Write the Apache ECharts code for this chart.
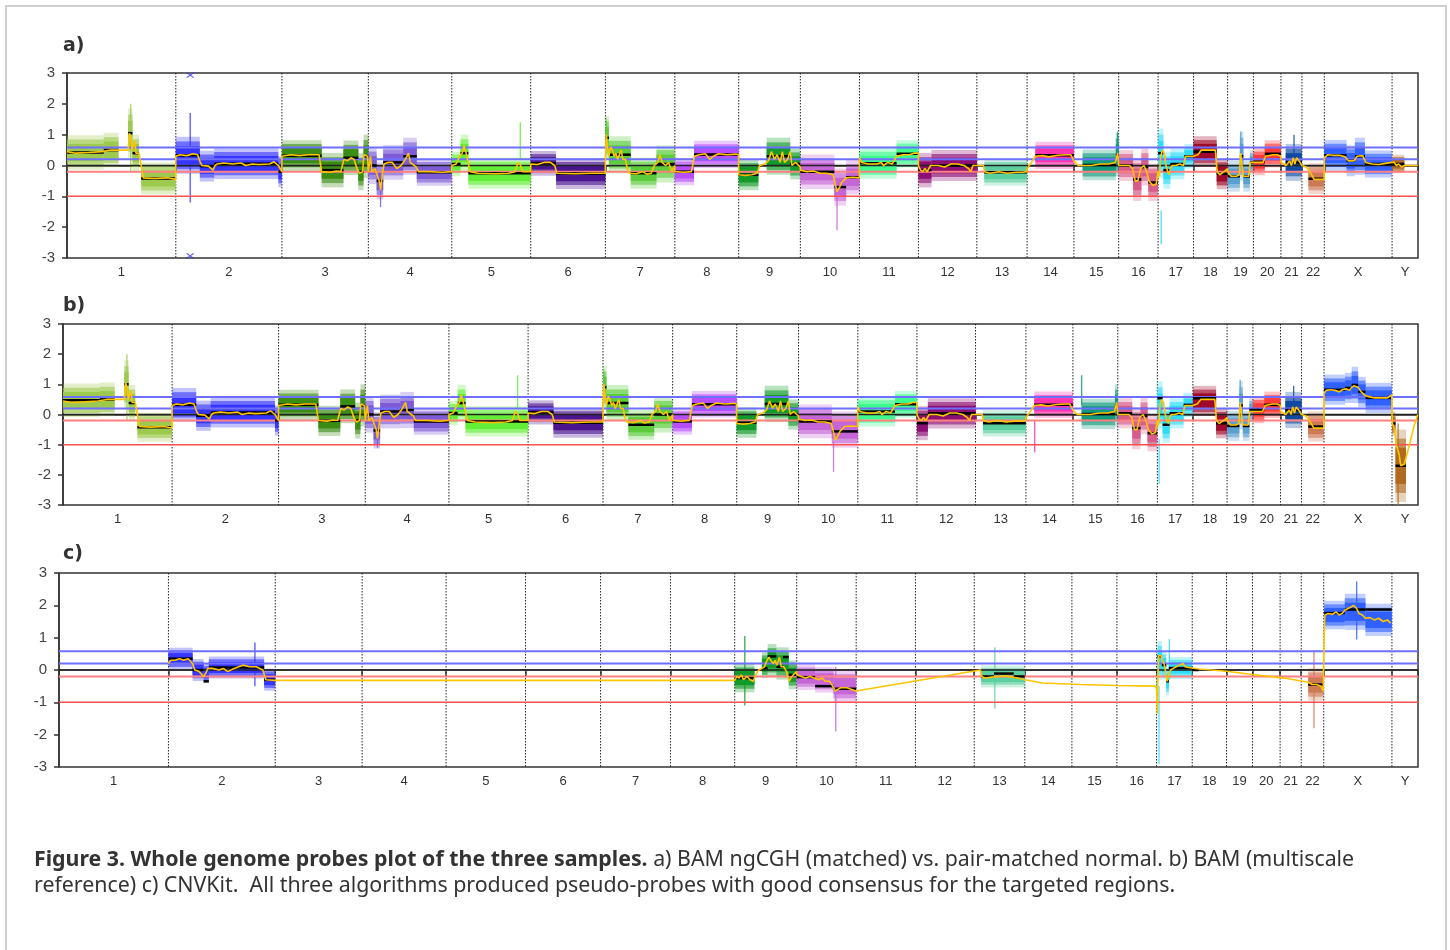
<!DOCTYPE html>
<html><head><meta charset="utf-8">
<script src="https://cdn.jsdelivr.net/npm/echarts@6/dist/echarts.min.js"></script>
<style>
html,body{margin:0;padding:0;background:#fff;overflow:hidden;width:1450px;height:950px;}
#frame{position:absolute;left:5px;top:5px;width:1442px;height:990px;border:2px solid #cfcfcf;box-sizing:border-box;z-index:10;pointer-events:none;}
#chart{position:absolute;left:0;top:0;width:1450px;height:950px;}
#caption{position:absolute;left:34px;top:845px;width:1410px;font-family:'Noto Sans',sans-serif;font-size:21.35px;line-height:26px;color:#333;z-index:5;}
</style></head><body>
<div id="chart"></div>
<div id="frame"></div>
<div id="caption"><b>Figure 3. Whole genome probes plot of the three samples.</b> a) BAM ngCGH (matched) vs. pair-matched normal. b) BAM (multiscale<br>reference) c) CNVKit.&nbsp; All three algorithms produced pseudo-probes with good consensus for the targeted regions.</div>
<script>
// ---------- data ----------
const chrNames = ['1','2','3','4','5','6','7','8','9','10','11','12','13','14','15','16','17','18','19','20','21','22','X','Y'];
const chrLengths = [249.3,243.2,198.0,191.2,180.9,171.1,159.1,146.4,141.2,135.5,135.0,133.9,115.2,107.3,102.5,90.4,81.2,78.1,59.1,63.0,48.1,51.3,155.3,59.4];
const yTicks = [-3,-2,-1,0,1,2,3];
const refLevels = [0.58, 0.2, 0, -0.2, -1];
const panelLabels = ['a)','b)','c)'];

// segments: [chr, startMb, endMb, segment mean, cloud half-width, (cloud centre)]
const segA = [
 ['1',0,84,0.42,0.28],['1',84,118,0.5,0.28],['1',140,150,1.05,0.4],['1',150,165,0.4,0.3],['1',170,249,-0.42,0.26],
 ['2',0,55,0.33,0.3],['2',55,88,-0.02,0.25],['2',88,235,0.06,0.25],['2',235,243,-0.2,0.25],
 ['3',0,91,0.32,0.25],['3',91,141,-0.15,0.28],['3',141,175,0.25,0.28],['3',175,187,-0.2,0.3],['3',187,198,0.3,0.35],
 ['4',0,19,0.0,0.3],['4',19,34,-0.5,0.3],['4',34,80,0.1,0.28],['4',80,111,0.3,0.3],['4',111,191,-0.22,0.22],
 ['5',0,20,0.05,0.2],['5',20,38,0.4,0.3],['5',38,181,-0.25,0.25],
 ['6',0,58,0.07,0.2],['6',58,171,-0.26,0.25],
 ['7',0,8,0.9,0.35],['7',8,58,0.35,0.3],['7',58,117,-0.25,0.25],['7',117,159,0.05,0.3],
 ['8',0,44,-0.2,0.22],['8',44,146,0.36,0.22],
 ['9',0,45,-0.3,0.25],['9',64,118,0.3,0.3],['9',118,141,0.05,0.25],
 ['10',0,78,-0.2,0.28],['10',78,105,-0.7,0.3],['10',105,135.5,-0.38,0.28],
 ['11',0,85,0.07,0.25],['11',85,135,0.38,0.22],
 ['12',0,30,-0.15,0.28],['12',30,134,0.0,0.25],
 ['13',17,115,-0.22,0.22],
 ['14',19,107,0.33,0.22],
 ['15',20,96,0.02,0.25],['15',96,102.5,0.35,0.35],
 ['16',0,33,0.0,0.25],['16',33,52,-0.45,0.35],['16',52,68,-0.05,0.3],['16',68,90,-0.55,0.3],
 ['17',0,12,0.4,0.4],['17',12,28,-0.15,0.3],['17',28,60,0.05,0.25],['17',60,81,0.3,0.2],
 ['18',0,53,0.45,0.25],['18',53,78,-0.27,0.25],
 ['19',0,28,-0.35,0.25],['19',28,36,0.3,0.4],['19',36,51,-0.35,0.25],['19',51,59,0.1,0.2],
 ['20',0,26,0.12,0.22],['20',26,63,0.38,0.22],
 ['21',11,48,0.1,0.3],
 ['22',15,51,-0.43,0.25],
 ['X',0,51,0.33,0.25],['X',51,70,0.15,0.25],['X',70,93,0.3,0.3],['X',93,155,0.05,0.22],
 ['Y',0,28,0.05,0.15]
];
const segB = [
 ['1',0,84,0.47,0.28],['1',84,118,0.5,0.28],['1',140,150,1.0,0.4],['1',150,165,0.38,0.3],['1',170,249,-0.42,0.24],
 ['2',0,55,0.32,0.28],['2',55,88,-0.04,0.25],['2',88,235,0.07,0.25],['2',235,243,-0.2,0.25],
 ['3',0,91,0.32,0.25],['3',91,141,-0.21,0.25],['3',141,175,0.27,0.28],['3',175,187,-0.2,0.3],['3',187,198,0.3,0.35],
 ['4',0,19,0.0,0.3],['4',19,34,-0.53,0.3],['4',34,80,0.1,0.28],['4',80,111,0.15,0.3],['4',111,191,-0.23,0.22],
 ['5',0,20,0.05,0.2],['5',20,38,0.38,0.3],['5',38,181,-0.23,0.25],
 ['6',0,58,0.07,0.2],['6',58,171,-0.27,0.25],
 ['7',0,8,0.9,0.35],['7',8,58,0.38,0.3],['7',58,117,-0.34,0.25],['7',117,159,0.0,0.3],
 ['8',0,44,-0.23,0.22],['8',44,146,0.34,0.22],
 ['9',0,45,-0.27,0.25],['9',64,118,0.35,0.3],['9',118,141,0.0,0.25],
 ['10',0,76,-0.23,0.28],['10',76,135.5,-0.56,0.3,-0.5],
 ['11',0,85,0.1,0.25],['11',85,135,0.34,0.22],
 ['12',0,25,-0.29,0.28],['12',25,134,0.04,0.25],
 ['13',17,115,-0.29,0.22],
 ['14',19,107,0.32,0.22],
 ['15',20,96,0.02,0.25],['15',96,102.5,0.3,0.35],
 ['16',0,33,0.04,0.25],['16',33,52,-0.45,0.35],['16',52,68,-0.05,0.3],['16',68,90,-0.62,0.3],
 ['17',0,12,0.54,0.4,0.3],['17',12,28,-0.34,0.3],['17',28,60,0.04,0.25],['17',60,81,0.32,0.2],
 ['18',0,53,0.54,0.25,0.45],['18',53,78,-0.29,0.25],
 ['19',0,28,-0.38,0.25],['19',28,36,0.3,0.4],['19',36,51,-0.38,0.25],['19',51,59,0.15,0.2],
 ['20',0,26,0.15,0.22],['20',26,63,0.32,0.22],
 ['21',11,48,0.15,0.3],
 ['22',15,51,-0.4,0.25],
 ['X',0,48,0.82,0.25],['X',48,63,0.88,0.25],['X',63,78,0.98,0.3],['X',78,95,0.75,0.25],['X',95,155,0.55,0.25],
 ['Y',0,8,-0.3,0.2],['Y',8,32,-1.7,0.6]
];
const segC = [
 ['2',0,55,0.35,0.17],['2',55,80,0.0,0.17],['2',80,92,-0.35,0.15,-0.1],['2',92,218,0.08,0.17],['2',218,243,-0.3,0.17],
 ['9',0,45,-0.25,0.22],['9',62,75,0.06,0.2,0.15],['9',75,95,0.42,0.25,0.3],['9',95,110,0.1,0.25,0.2],['9',110,123,0.4,0.25,0.2],['9',123,141,-0.15,0.22],
 ['10',0,42,-0.22,0.2],['10',42,84,-0.5,0.2,-0.3],['10',84,135.5,-0.58,0.25,-0.5],
 ['13',16,45,-0.2,0.17],['13',45,90,-0.11,0.17,-0.2],['13',90,115,-0.2,0.17],
 ['17',0,2,-0.6,0.2],['17',2,12,0.42,0.3,0.3],['17',12,22,0.15,0.22],['17',22,28,-0.35,0.22],['17',28,81,0.06,0.17],
 ['18',0,15,0.0,0],
 ['22',16,51,-0.45,0.25],
 ['X',1,48,1.76,0.22,1.7],['X',48,95,1.87,0.28,1.8],['X',95,155,1.87,0.25,1.55]
];

// isolated outlier streaks: [chr, Mb, low, high]
const outA = [['1',146,-0.2,2.0],['2',33,-1.2,1.7],['4',28,-1.35,-0.6],['5',157,0.2,1.4],['7',2,0.6,1.5],['10',84,-2.1,-1.0],['15',100,0.4,1.1],['17',7,-2.55,-1.45],['19',30,0.4,1.1],['21',30,0.4,1.0]];
const outB = [['1',146,-0.2,2.0],['4',28,-1.1,-0.6],['5',157,0.2,1.3],['7',2,0.6,1.45],['10',80,-1.9,-0.9],['14',20,-1.25,-0.2],['15',20,0.3,1.3],['17',4,-2.3,-0.8],['19',30,0.4,1.15],['21',30,0.4,0.95],['Y',14,-3,-0.3]];
const outC = [['2',197,-0.5,0.85],['9',23,-1.1,1.05],['10',89,-1.9,0.1],['13',47,-1.2,0.7],['17',5.5,-2.9,-0.5],['17',29,-0.3,0.96],['22',29,-1.8,0.6],['X',75,0.94,2.74]];
// clipped probes drawn as crosses at the axis limits: [chr, Mb, value]
const clipA = [['2',33,2.93],['2',33,-2.93]];

// smoothed trace: [chr, [[Mb, value], ...]]
const yellowAuto = [
 ['1',[[0,0.45],[20,0.4],[50,0.42],[80,0.45],[100,0.5],[118,0.5],[140,0.5],[143,1.05],[147,0.85],[149,0.5],[152,0.45],[155,0.8],[158,0.4],[165,0.4],[170,0.0],[175,-0.4],[200,-0.42],[230,-0.4],[249,-0.45]]],
 ['2',[[0,0.3],[10,0.35],[25,0.32],[40,0.38],[50,0.35],[56,0.1],[60,0.0],[75,-0.02],[85,-0.15],[90,0.0],[95,0.05],[110,0.08],[130,0.05],[150,0.08],[160,0.0],[175,0.05],[190,0.03],[215,0.05],[225,0.12],[235,0.0],[243,-0.2]]],
 ['3',[[0,0.3],[20,0.35],[40,0.32],[60,0.35],[85,0.35],[91,-0.2],[110,-0.22],[125,-0.18],[135,-0.2],[142,0.2],[150,0.15],[158,0.25],[165,0.2],[172,-0.1],[178,-0.25],[185,-0.2],[188,0.35],[196,0.3],[198,-0.2]]],
 ['4',[[0,-0.15],[5,0.3],[8,-0.2],[15,-0.1],[20,-0.3],[25,-0.5],[28,-0.8],[32,-0.3],[36,0.05],[45,0.1],[55,0.1],[65,-0.1],[75,0.0],[85,0.2],[92,0.4],[96,0.1],[105,0.0],[110,-0.05],[115,-0.2],[140,-0.2],[170,-0.22],[191,-0.2]]],
 ['5',[[0,0.0],[10,0.05],[18,0.3],[24,0.4],[28,0.65],[32,0.45],[36,0.2],[42,-0.2],[60,-0.25],[100,-0.27],[130,-0.25],[145,-0.2],[152,0.1],[158,0.0],[162,-0.2],[181,-0.2]]],
 ['6',[[0,0.05],[15,0.03],[30,0.1],[45,0.1],[55,0.0],[60,-0.25],[100,-0.27],[140,-0.25],[171,-0.25]]],
 ['7',[[0,0.1],[2,1.0],[5,0.6],[8,0.3],[12,0.6],[16,0.5],[20,0.3],[24,0.4],[28,0.2],[32,0.35],[36,0.5],[40,0.2],[46,0.2],[50,-0.1],[55,-0.25],[70,-0.27],[85,-0.2],[95,-0.28],[105,-0.25],[112,0.0],[120,0.1],[125,0.35],[130,0.1],[138,0.0],[145,0.1],[152,-0.2],[159,0.0]]],
 ['8',[[0,-0.2],[20,-0.22],[38,-0.2],[45,0.3],[55,0.35],[70,0.38],[80,0.2],[88,0.3],[100,0.38],[120,0.35],[140,0.37],[146,0.35]]],
 ['9',[[0,-0.3],[15,-0.32],[30,-0.3],[42,-0.25],[48,0.0],[60,0.05],[68,0.15],[75,0.45],[82,0.2],[88,0.35],[95,0.1],[100,0.45],[105,0.1],[112,0.2],[118,0.45],[122,0.0],[130,0.1],[141,-0.05]]],
 ['10',[[0,-0.15],[15,-0.2],[30,-0.18],[45,-0.25],[60,-0.25],[75,-0.3],[80,-0.6],[84,-0.85],[90,-0.7],[95,-0.55],[105,-0.4],[120,-0.38],[135,-0.4]]],
 ['11',[[0,0.25],[5,0.1],[20,0.05],[40,0.05],[50,0.1],[55,0.0],[65,0.1],[75,0.05],[85,0.3],[100,0.35],[115,0.35],[125,0.4],[135,0.4]]],
 ['12',[[0,0.0],[5,-0.15],[10,-0.2],[15,-0.1],[20,-0.2],[28,0.0],[45,0.0],[60,-0.05],[75,0.05],[90,0.05],[105,0.0],[115,-0.1],[120,-0.2],[125,0.0],[134,0.0]]],
 ['13',[[0,0.0],[15,0.0],[18,-0.2],[30,-0.25],[50,-0.2],[70,-0.25],[90,-0.22],[105,-0.22],[115,-0.2]]],
 ['14',[[0,-0.1],[10,0.1],[19,0.3],[35,0.32],[50,0.28],[70,0.33],[90,0.35],[100,0.35],[107,0.15]]],
 ['15',[[0,0.15],[10,0.0],[20,0.0],[40,0.0],[60,0.05],[80,0.05],[95,0.1],[100,0.4],[102,0.1]]],
 ['16',[[0,0.0],[15,0.0],[25,0.0],[32,-0.1],[38,-0.5],[44,-0.5],[50,-0.1],[58,0.0],[64,-0.2],[70,-0.5],[78,-0.65],[86,-0.6],[90,-0.2]]],
 ['17',[[0,-0.4],[3,-0.3],[6,0.3],[10,0.5],[14,0.4],[18,0.0],[22,-0.2],[25,-0.3],[28,-0.1],[32,0.0],[40,0.0],[50,0.05],[58,0.0],[63,0.3],[72,0.3],[81,0.3]]],
 ['18',[[0,0.35],[10,0.35],[18,0.5],[35,0.5],[50,0.5],[54,-0.2],[60,-0.3],[70,-0.2],[78,-0.1]]],
 ['19',[[0,-0.2],[8,-0.35],[20,-0.35],[27,-0.3],[30,0.4],[33,0.0],[36,-0.35],[48,-0.35],[52,0.1],[59,0.1]]],
 ['20',[[0,0.05],[10,0.1],[22,0.1],[28,0.3],[45,0.35],[55,0.35],[63,0.3]]],
 ['21',[[0,0.1],[12,0.0],[16,-0.05],[20,0.15],[24,0.0],[28,0.25],[32,0.05],[36,0.25],[40,0.3],[44,0.1],[48,0.0]]],
 ['22',[[0,0.0],[10,-0.05],[16,-0.15],[22,-0.3],[28,-0.45],[40,-0.45],[51,-0.45]]]
];
const yellowSexA = [
 ['X',[[0,0.25],[8,0.35],[20,0.33],[35,0.33],[48,0.28],[55,0.15],[68,0.15],[75,0.3],[88,0.32],[95,0.1],[110,0.05],[125,0.03],[140,0.07],[155,0.1]]],
 ['Y',[[0,0.15],[5,0.1],[10,0.0],[15,0.05],[22,-0.05],[28,0.0],[59,0.0]]]
];
const yellowSexB = [
 ['X',[[0,0.7],[5,0.8],[15,0.82],[25,0.8],[35,0.75],[42,0.82],[50,0.85],[58,0.8],[63,0.9],[68,0.95],[72,1.0],[78,0.9],[85,0.75],[92,0.65],[100,0.6],[115,0.55],[130,0.55],[145,0.55],[155,0.65]]],
 ['Y',[[0,0.0],[1,-0.3],[6,-0.5],[10,-1.0],[16,-1.3],[20,-1.7],[28,-1.65],[40,-1.0],[50,-0.4],[59,0.0]]]
];
const yellowC = [
 ['2',[[0,0.2],[5,0.3],[15,0.3],[25,0.35],[35,0.3],[45,0.35],[55,0.2],[60,0.0],[70,-0.05],[80,-0.2],[85,-0.1],[90,0.05],[100,0.05],[115,0.0],[125,0.05],[135,-0.05],[150,0.05],[160,0.1],[170,0.15],[185,0.1],[200,0.1],[215,0.0],[222,-0.3],[243,-0.32]]],
 ['9',[[0,-0.32],[5,-0.2],[10,-0.25],[15,-0.15],[20,-0.3],[28,-0.2],[35,-0.3],[42,-0.35],[48,-0.15],[55,0.0],[62,0.05],[68,0.1],[72,0.25],[78,0.4],[82,0.3],[88,0.2],[92,0.3],[96,0.15],[102,0.4],[106,0.1],[112,0.1],[118,-0.05],[124,-0.35],[130,-0.2],[141,-0.05]]],
 ['10',[[0,-0.15],[10,-0.2],[20,-0.25],[30,-0.2],[40,-0.25],[50,-0.3],[58,-0.25],[65,-0.35],[75,-0.35],[82,-0.5],[88,-0.65],[94,-0.6],[100,-0.55],[115,-0.55],[125,-0.6],[135,-0.65]]],
 ['13',[[14,0.0],[17,-0.2],[25,-0.25],[40,-0.22],[55,-0.2],[70,-0.18],[85,-0.22],[100,-0.25],[115,-0.3]]],
 ['14',[[0,-0.35],[40,-0.4]]],
 ['15',[[20,-0.45]]],
 ['16',[[0,-0.48],[88,-0.5]]],
 ['17',[[0,-0.6],[1.5,-1.35],[3,-0.2],[5,0.45],[10,0.45],[13,0.3],[17,0.2],[20,0.0],[24,-0.35],[27,-0.2],[32,0.0],[38,0.05],[45,0.1],[52,0.15],[56,0.1],[60,0.2],[65,0.1],[72,0.08],[81,0.06]]],
 ['18',[[15,0.03]]],
 ['19',[[0,-0.04]]],
 ['20',[[0,-0.14]]],
 ['21',[[10,-0.25]]],
 ['22',[[16,-0.38],[25,-0.45],[35,-0.45],[45,-0.5],[50,-0.65]]],
 ['X',[[0.5,-0.6],[1.5,1.4],[3,1.7],[10,1.75],[20,1.72],[28,1.8],[35,1.7],[42,1.75],[48,1.85],[55,1.9],[62,1.95],[68,2.0],[75,1.9],[80,1.75],[88,1.7],[95,1.6],[105,1.62],[115,1.55],[125,1.6],[135,1.5],[145,1.55],[152,1.45]]]
];

// ---------- styles ----------
const chrColors = ['#9ec94f','#3535ff','#3a8c14','#7d5ad6','#62ee36','#4b1590','#5ccc3c','#b84cff','#139a2a','#c565d6','#3dfa8e','#8e0f74','#5ccfa0','#ff33b0','#129a7c','#d65c8a','#30dcf5','#a00a2a','#5aa0d0','#ff3838','#0f4aa0','#cc7a55','#3060ff','#b06a20'];
const refStyles = [
 {stroke:'#6f6fff', lineWidth:2},
 {stroke:'#6f6fff', lineWidth:2},
 {stroke:'#222222', lineWidth:1.5},
 {stroke:'#ff8080', lineWidth:2},
 {stroke:'#ff5050', lineWidth:1.5}
];
const grids = [
 {left:67, top:73, width:1351, height:185},
 {left:63, top:324, width:1355, height:181},
 {left:59, top:573, width:1359, height:194}
];
const titleTops = [37, 297, 545];

// ---------- derived ----------
const offsets = []; let acc = 0;
chrLengths.forEach(l => { offsets.push(acc); acc += l; });
const genomeLen = acc;
const cIdx = c => chrNames.indexOf(c);
const gpos = (c, mb) => offsets[cIdx(c)] + mb;
const boundaries = offsets.concat([genomeLen]);
const centers = chrNames.map((c, i) => offsets[i] + chrLengths[i] / 2);
const nameAt = v => { let b = 0; centers.forEach((c, i) => { if (Math.abs(c - v) < Math.abs(centers[b] - v)) b = i; }); return chrNames[b]; };

const panels = [
 {seg: segA, out: outA, yel: yellowAuto.concat(yellowSexA), clip: clipA},
 {seg: segB, out: outB, yel: yellowAuto.concat(yellowSexB), clip: []},
 {seg: segC, out: outC, yel: yellowC, clip: []}
];

function clipRect(r, params) {
  return echarts.graphic.clipRectByRect(r, params.coordSys);
}
function cloudItem(params, api) {
  const x0 = api.value(0), x1 = api.value(1), c = api.value(2), h = api.value(3), ci = api.value(4);
  const col = chrColors[ci];
  const kids = [];
  [[2.0, 0.3], [1.5, 0.6], [1.0, 1.0]].forEach(([k, op]) => {
    if (h <= 0) return;
    const p0 = api.coord([x0, c + k * h]);
    const p1 = api.coord([x1, c - k * h]);
    const r = clipRect({x: p0[0], y: p0[1], width: p1[0] - p0[0], height: p1[1] - p0[1]}, params);
    if (r) kids.push({type: 'rect', shape: r, style: {fill: col, opacity: op}});
  });
  return {type: 'group', children: kids};
}
function segItem(params, api) {
  const p0 = api.coord([api.value(0), api.value(2)]);
  const p1 = api.coord([api.value(1), api.value(2)]);
  return {type: 'line', shape: {x1: p0[0], y1: p0[1], x2: p1[0], y2: p1[1]}, style: {stroke: '#000', lineWidth: 2.5}};
}
function outItem(params, api) {
  const p0 = api.coord([api.value(0), api.value(1)]);
  const p1 = api.coord([api.value(0), api.value(2)]);
  return {type: 'line', shape: {x1: p0[0], y1: p0[1], x2: p1[0], y2: p1[1]}, style: {stroke: chrColors[api.value(3)], lineWidth: 1.3, opacity: 0.85}};
}
function refItem(params, api) {
  const cs = params.coordSys;
  const p = api.coord([0, api.value(0)]);
  return {type: 'line', shape: {x1: cs.x, y1: p[1], x2: cs.x + cs.width, y2: p[1]}, style: refStyles[params.dataIndex]};
}
function bndItem(params, api) {
  const p0 = api.coord([api.value(0), 3]);
  const p1 = api.coord([api.value(0), -3]);
  return {type: 'line', shape: {x1: p0[0], y1: p0[1], x2: p1[0], y2: p1[1]}, style: {stroke: '#222', lineWidth: 1, lineDash: [1.5, 1.5]}};
}

const option = {
  animation: false,
  backgroundColor: '#fff',
  grid: grids.map(g => Object.assign({show: true, borderColor: '#333', borderWidth: 1.5, backgroundColor: 'transparent'}, g)),
  xAxis: grids.map((g, i) => ({
    gridIndex: i, type: 'value', min: 0, max: genomeLen,
    axisLine: {show: true, lineStyle: {color: '#333', width: 1.5}},
    axisTick: {show: true, customValues: boundaries, length: 6, lineStyle: {color: '#333', width: 1.5}},
    axisLabel: {customValues: centers, formatter: v => nameAt(v), color: '#333', fontSize: 13, fontFamily: 'Liberation Sans', margin: 8},
    splitLine: {show: false}
  })),
  yAxis: grids.map((g, i) => ({
    gridIndex: i, type: 'value', min: yTicks[0], max: yTicks[yTicks.length - 1], interval: 1,
    axisLine: {show: true, lineStyle: {color: '#333', width: 1.5}},
    axisTick: {show: true, length: 5, lineStyle: {color: '#333', width: 1.5}},
    axisLabel: {color: '#444', fontSize: 15, fontFamily: 'Liberation Sans', margin: 12},
    splitLine: {show: false}
  })),
  graphic: panelLabels.map((t, i) => ({
    type: 'text', left: 63, top: titleTops[i],
    style: {text: t, font: 'bold 19px "DejaVu Sans"', fill: '#333'}
  })),
  series: []
};

panels.forEach((p, i) => {
  const ax = {xAxisIndex: i, yAxisIndex: i};
  option.series.push(Object.assign({
    type: 'custom', silent: true, z: 1, renderItem: bndItem,
    data: boundaries.slice(1, -1).map(b => [b])
  }, ax));
  option.series.push(Object.assign({
    type: 'custom', silent: true, z: 2, renderItem: cloudItem,
    encode: {x: [0, 1], y: 2},
    data: p.seg.map(s => [gpos(s[0], s[1]), gpos(s[0], s[2]), s.length > 5 ? s[5] : s[3], s[4], cIdx(s[0])])
  }, ax));
  option.series.push(Object.assign({
    type: 'custom', silent: true, z: 3, renderItem: outItem,
    encode: {x: 0, y: [1, 2]},
    data: p.out.map(o => [gpos(o[0], o[1]), o[2], o[3], cIdx(o[0])])
  }, ax));
  option.series.push(Object.assign({
    type: 'custom', silent: true, z: 4, renderItem: refItem,
    data: refLevels.map(v => [v])
  }, ax));
  option.series.push(Object.assign({
    type: 'custom', silent: true, z: 5, renderItem: segItem,
    encode: {x: [0, 1], y: 2},
    data: p.seg.map(s => [gpos(s[0], s[1]), gpos(s[0], s[2]), s[3]])
  }, ax));
  option.series.push(Object.assign({
    type: 'line', silent: true, z: 6, showSymbol: false, symbol: 'none',
    lineStyle: {color: '#ffc400', width: 1.6},
    data: p.yel.flatMap(([c, pts]) => pts.map(([mb, v]) => [gpos(c, mb), v]))
  }, ax));
  if (p.clip.length) {
    option.series.push(Object.assign({
      type: 'scatter', silent: true, z: 6, symbol: 'path://M0,0L10,10M10,0L0,10', symbolSize: [7, 5],
      itemStyle: {color: 'none', borderColor: '#3535ff', borderWidth: 1},
      data: p.clip.map(c => [gpos(c[0], c[1]), c[2]])
    }, ax));
  }
});

const chart = echarts.init(document.getElementById('chart'), null, {renderer: 'canvas'});
chart.setOption(option);
</script>
</body></html>
